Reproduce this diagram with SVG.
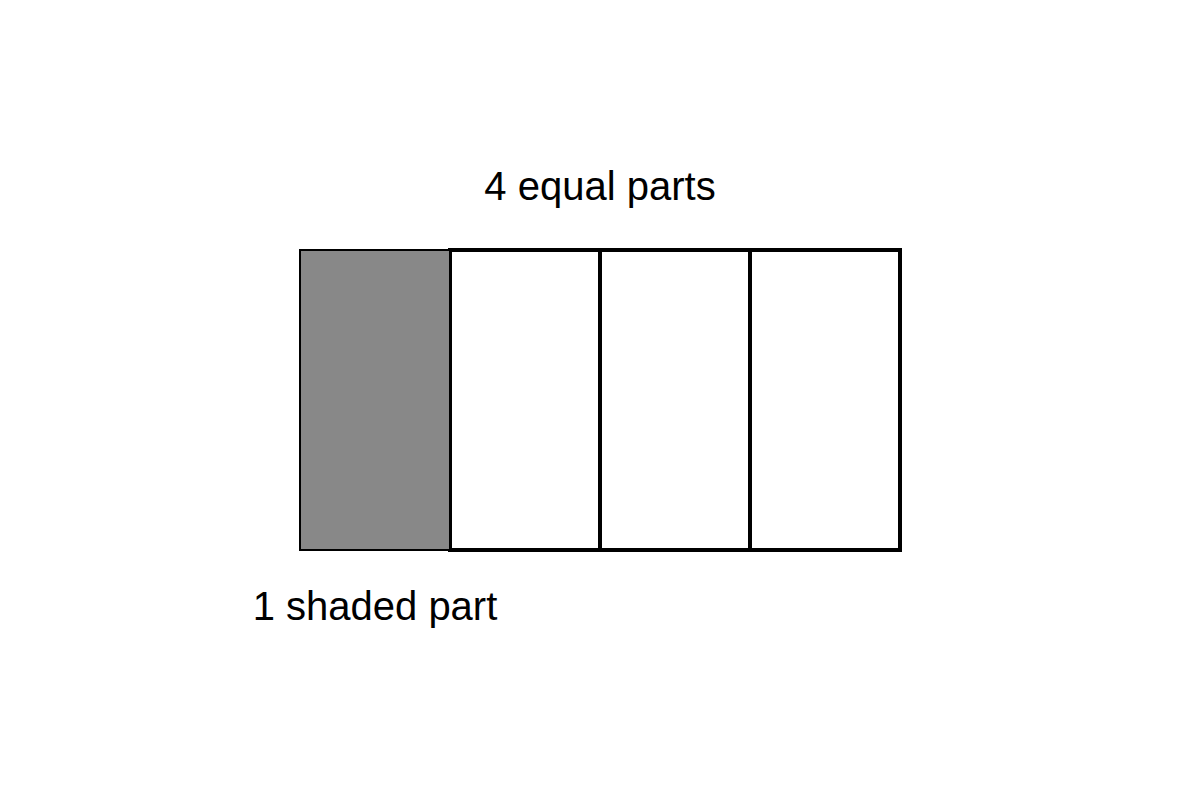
<svg xmlns="http://www.w3.org/2000/svg" width="1200" height="800" viewBox="0 0 1200 800">
<style>
.lbl{font-family:"Liberation Sans",Arial,sans-serif;font-size:40px;fill:#000;text-anchor:middle}
.part{fill:#fff;stroke:#000;stroke-width:4}
.shaded{fill:#888;stroke:#000;stroke-width:2}
</style>
<rect width="1200" height="800" fill="#fff"/>
<g id="title"><text class="lbl" x="600" y="200">4 equal parts</text></g>
<g id="part2"><rect class="part" x="450" y="250" width="150" height="300"/></g>
<g id="part3"><rect class="part" x="600" y="250" width="150" height="300"/></g>
<g id="part4"><rect class="part" x="750" y="250" width="150" height="300"/></g>
<g id="part1"><rect class="shaded" x="300" y="250" width="150" height="300"/></g>
<g id="caption"><text class="lbl" x="375" y="620">1 shaded part</text></g>
</svg>
